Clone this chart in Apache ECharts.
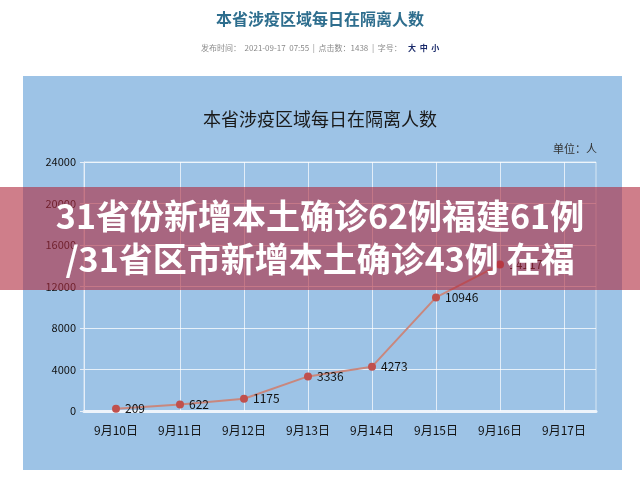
<!DOCTYPE html>
<html>
<head>
<meta charset="utf-8">
<script src="https://cdn.jsdelivr.net/npm/echarts@6/dist/echarts.min.js"></script>
<style>
  html, body { margin: 0; padding: 0; background: #fff; }
  #chart { width: 640px; height: 477px; }
</style>
</head>
<body>
<div id="chart"></div>
<script>
// data
const days = ['9月10日', '9月11日', '9月12日', '9月13日', '9月14日', '9月15日', '9月16日', '9月17日'];
const isolated = [209, 622, 1175, 3336, 4273, 10946, 14117, null];
const yTicks = [0, 4000, 8000, 12000, 16000, 20000, 24000];

const pageTitle = '本省涉疫区域每日在隔离人数';
const metaLine = '发布时间：  2021-09-17  07:55  |  点击数：1438  |  字号：';
const bannerLines = ['31省份新增本土确诊62例福建61例', '/31省区市新增本土确诊43例 在福'];

const CJK = '"Noto Sans CJK SC", "Noto Sans", sans-serif';

let chart = echarts.init(document.getElementById('chart'));

const option = {
    backgroundColor: '#fff',
    animation: false,
    grid: {
        left: 84, right: 44, top: 162, bottom: 66,
        show: true, borderColor: 'rgba(255,255,255,0.6)', borderWidth: 1
    },
    xAxis: {
        type: 'category',
        data: days,
        boundaryGap: true,
        axisLine: { lineStyle: { color: '#eef4fb', width: 3 } },
        axisTick: { show: false },
        axisLabel: { color: '#111', fontSize: 12, fontFamily: CJK, margin: 13 },
        splitLine: { show: false }
    },
    yAxis: {
        type: 'value',
        min: yTicks[0],
        max: yTicks[yTicks.length - 1],
        interval: 4000,
        axisLine: { show: true, lineStyle: { color: '#e6eef8', width: 1 } },
        axisTick: { show: true, length: 4, lineStyle: { color: '#e6eef8' } },
        axisLabel: { color: '#111', fontSize: 11, fontFamily: CJK, margin: 8,
                     formatter: v => String(v) },
        splitLine: { lineStyle: { color: 'rgba(255,255,255,0.75)', width: 1 } }
    },
    series: [{
        type: 'line',
        data: isolated,
        z: 5,
        symbol: 'circle',
        symbolSize: 8,
        itemStyle: { color: '#c0504d' },
        lineStyle: { color: '#c9877d', width: 2 },
        label: {
            show: true, position: 'right', distance: 5,
            color: '#111', fontSize: 12, fontFamily: CJK
        },
        markLine: {
            silent: true,
            symbol: 'none',
            label: { show: false },
            lineStyle: { color: 'rgba(255,255,255,0.7)', type: 'solid', width: 1 },
            data: days.slice(1).map(d => ({ xAxis: d }))
        }
    }],
    graphic: [
        // page header
        { type: 'text', left: 'center', top: 11, z: 1,
          style: { text: pageTitle, fill: '#2e6e8e', font: 'bold 16px ' + CJK } },
        { type: 'text', left: 201, top: 44, z: 1,
          style: { text: metaLine, fill: '#8a8a8a', font: '8px ' + CJK } },
        { type: 'text', left: 408, top: 44, z: 1,
          style: { text: '大  中  小', fill: '#1a2a6a', font: 'bold 8px ' + CJK } },
        // blue panel
        { type: 'rect', z: -10, shape: { x: 23, y: 76, width: 599, height: 394 },
          style: { fill: '#9dc3e6' } },
        { type: 'text', left: 'center', top: 110, z: 1,
          style: { text: pageTitle, fill: '#1a1a1a', font: '18px ' + CJK } },
        { type: 'text', left: 553, top: 143, z: 1,
          style: { text: '单位：人', fill: '#333', font: '11px "Noto Sans CJK SC", serif' } },
        // overlay banner
        { type: 'rect', z: 100, shape: { x: 0, y: 187, width: 640, height: 103 },
          style: { fill: 'rgba(175,40,60,0.6)' } },
        { type: 'text', left: 'center', top: 199, z: 101,
          style: { text: bannerLines[0], fill: '#fff', font: 'bold 34px ' + CJK } },
        { type: 'text', left: 'center', top: 242, z: 101,
          style: { text: bannerLines[1], fill: '#fff', font: 'bold 34px ' + CJK } }
    ]
};

chart.setOption(option);
</script>
</body>
</html>
